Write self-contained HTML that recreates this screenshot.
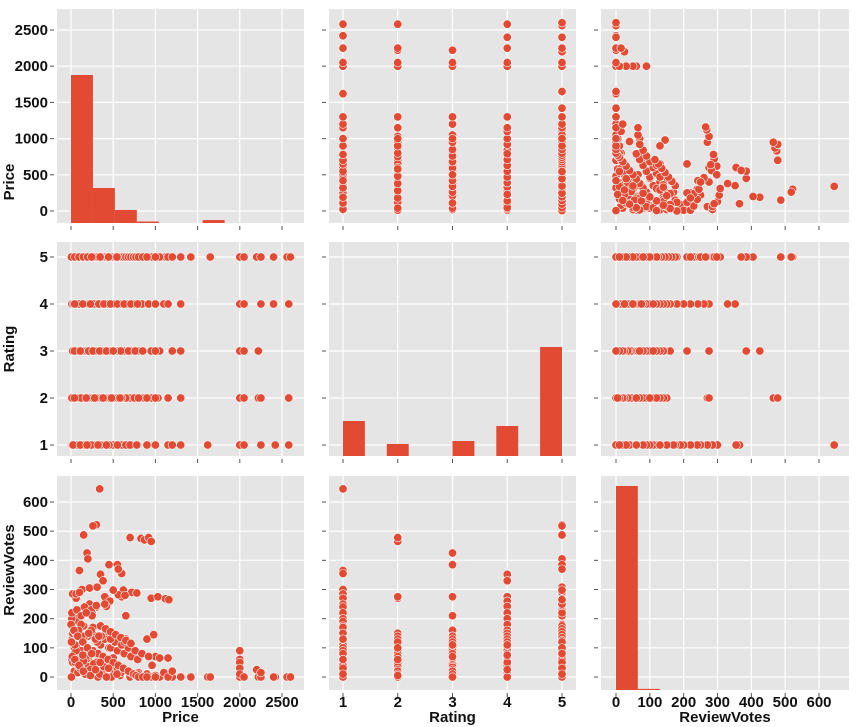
<!DOCTYPE html>
<html><head><meta charset="utf-8"><style>
html,body{margin:0;padding:0;background:#fff}
svg{display:block}
text{font-family:"Liberation Sans",sans-serif;font-weight:bold;fill:#111}
</style></head><body>
<svg id="chart" width="862" height="727" viewBox="0 0 862 727" xmlns="http://www.w3.org/2000/svg"></svg>
<script>
// ---- data (grouped by rating) ----
const priceR1=[340,100,600,130,20,60,220,300,10,50,90,150,200,250,400,500,30,70,120,180,260,350,450,550,650,40,80,160,240,320,420,700,780,900,1000,1150,1200,1300,1620,2000,2000,2050,2250,2420,2580,5,15,25,110,190];
const votesR1=[645,365,355,300,285,270,250,240,220,200,190,175,60,150,40,120,110,100,90,80,170,60,150,40,130,20,15,10,5,0,0,0,5,10,0,0,20,0,0,0,60,0,0,0,0,0,130,60,30,10];
const priceR2=[830,870,920,950,700,950,1030,20,80,150,250,350,450,550,650,750,10,60,120,200,300,400,500,600,800,900,1000,1150,1300,2000,2050,2220,2250,2580,40,180,280,380,480,580];
const votesR2=[475,470,478,465,478,270,275,150,40,130,20,110,100,90,80,70,60,150,45,140,35,130,25,120,15,10,5,0,0,0,0,0,0,0,100,60,20,10,0,5];
const priceR3=[190,450,600,650,30,90,160,230,310,390,470,550,630,710,790,20,70,130,210,290,370,510,590,680,760,850,950,1050,1200,1300,2000,2050,2220,40,110,260,340,420,500,1000];
const votesR3=[425,385,275,210,160,50,140,30,120,10,100,90,80,70,60,50,45,140,35,130,25,120,15,110,5,0,0,0,0,0,0,0,0,80,60,20,10,0,65,70];
const priceR4=[350,380,400,460,420,250,10,60,120,180,240,300,360,440,520,600,680,760,840,920,30,90,150,210,270,330,390,470,550,630,710,790,1000,1100,1150,1300,2000,2000,2050,2250,2400,2580,45,140,230];
const votesR4=[352,330,275,260,242,220,200,90,180,70,160,50,140,30,120,110,100,90,80,70,65,160,55,150,45,140,35,130,25,120,15,10,5,15,0,0,0,50,0,0,0,0,110,75,25];
const priceR5=[280,300,260,150,200,550,560,620,720,780,560,640,20,60,100,10,70,120,160,240,250,180,300,220,310,500,400,1120,1160,980,900,1050,1150,960,0,15,35,50,80,110,140,170,200,230,260,290,320,350,380,410,440,470,500,530,560,590,620,650,680,710,740,770,800,850,900,1000,1200,1300,1420,1650,2000,2000,2000,2050,2200,2250,2400,2560,2600,5,45,95,145,195,245,345,445,545];
const votesR5=[520,522,518,487,405,385,370,298,290,288,282,280,285,285,290,220,230,210,240,230,210,220,245,305,308,298,250,268,265,145,130,65,65,40,180,70,160,50,140,30,120,10,100,5,90,25,80,175,70,165,60,155,50,145,40,135,30,125,20,115,10,5,0,0,0,0,20,0,0,0,90,30,10,0,25,15,0,0,0,120,60,40,20,100,80,50,30,10];
// histogram counts
const priceHistCounts=[2000,473,176,20,0,0,40,0,0,0];
const priceHistEdges=[0,260,520,780,1040,1300,1560,1820,2080,2340,2600];
const ratingHistCounts=[35,0,12,0,0,15,0,30,0,109];
const ratingHistEdges=[1,1.4,1.8,2.2,2.6,3.0,3.4,3.8,4.2,4.6,5.0];
const votesHistCounts=[2200,12,0,0,0,0,0,0,0,0];
const votesHistEdges=[0,64.5,129,193.5,258,322.5,387,451.5,516,580.5,645];
// ticks
const priceTicks=[0,500,1000,1500,2000,2500];
const ratingTicks=[1,2,3,4,5];
const votesTicks=[0,100,200,300,400,500,600];

const NS="http://www.w3.org/2000/svg";
const svg=document.getElementById('chart');
function mk(tag,attrs,parent){const e=document.createElementNS(NS,tag);for(const k in attrs)e.setAttribute(k,attrs[k]);(parent||svg).appendChild(e);return e;}

const cols=[{x0:57,x1:304},{x0:329,x1:576},{x0:601,x1:849}];
const rows=[{y0:9,y1:223},{y0:242,y1:456},{y0:476,y1:690}];
const xScale=[v=>71+(v-0)*(282-71)/2500, v=>343+(v-1)*(562-343)/4, v=>616+v*(819-616)/600];
const yScale=[v=>211-(v)*(211-30)/2500, v=>445-(v-1)*(445-257)/4, v=>677-v*(677-502)/600];
const ticks=[priceTicks,ratingTicks,votesTicks];
const names=['Price','Rating','ReviewVotes'];
const ylabelY=[182,349,570];
const allPrice=[priceR1,priceR2,priceR3,priceR4,priceR5];
const allVotes=[votesR1,votesR2,votesR3,votesR4,votesR5];

for(let r=0;r<3;r++){for(let c=0;c<3;c++){
  const C=cols[c],R=rows[r];
  const g=mk('g',{});
  
  
  const bg=mk('rect',{x:C.x0,y:R.y0,width:C.x1-C.x0,height:R.y1-R.y0,fill:'#E5E5E5'},g);
  
  
  ticks[c].forEach(t=>{const x=xScale[c](t);
    mk('line',{x1:x,x2:x,y1:R.y0,y2:R.y1,stroke:'#fff','stroke-width':1.2},g);
    mk('line',{x1:x,x2:x,y1:R.y1+3,y2:R.y1+7,stroke:'#555','stroke-width':1},g);});
  ticks[r].forEach(t=>{const y=yScale[r](t);
    mk('line',{x1:C.x0,x2:C.x1,y1:y,y2:y,stroke:'#fff','stroke-width':1.2},g);
    mk('line',{x1:C.x0-7,x2:C.x0-3,y1:y,y2:y,stroke:'#555','stroke-width':1},g);});
  if(r===c){
    const counts=[priceHistCounts,ratingHistCounts,votesHistCounts][r];
    const edges=[priceHistEdges,ratingHistEdges,votesHistEdges][r];
    const maxH=[148,109,204][r]/[2000,109,2200][r];
    counts.forEach((n,i)=>{if(n<=0)return;
      const x0=xScale[c](edges[i]),x1=xScale[c](edges[i+1]);const h=Math.max(1,n*maxH);
      const b=mk('rect',{x:x0,y:R.y1-h,width:x1-x0,height:h,fill:'#E24A33'},g);
      
      });
  } else {
    const val=(v,k,i)=>v===0?allPrice[k][i]:v===1?k+1:allVotes[k][i];
    for(let k=0;k<5;k++){const n=Math.min(allPrice[k].length,allVotes[k].length);
      for(let i=0;i<n;i++){
        const p=mk('circle',{cx:xScale[c](val(c,k,i)),cy:yScale[r](val(r,k,i)),r:4.2,fill:'#E24A33',stroke:'#fff','stroke-width':0.6},g);
        
        
      }}
  }
  if(c===0){ticks[r].forEach(t=>{const tx=mk('text',{x:48,y:yScale[r](t)+5,'text-anchor':'end','font-size':15},g);tx.textContent=t;
      
      });
    const yl=mk('text',{x:0,y:0,'text-anchor':'middle','font-size':15,transform:`translate(14,${ylabelY[r]}) rotate(-90)`},g);
    yl.textContent=names[r];
    
    }
  if(r===2){ticks[c].forEach(t=>{const tx=mk('text',{x:xScale[c](t),y:707,'text-anchor':'middle','font-size':15},g);tx.textContent=t;
      
      });
    const xl=mk('text',{x:(C.x0+C.x1)/2,y:722,'text-anchor':'middle','font-size':15},g);
    xl.textContent=names[c];
    
    }
}}
</script>
</body></html>
